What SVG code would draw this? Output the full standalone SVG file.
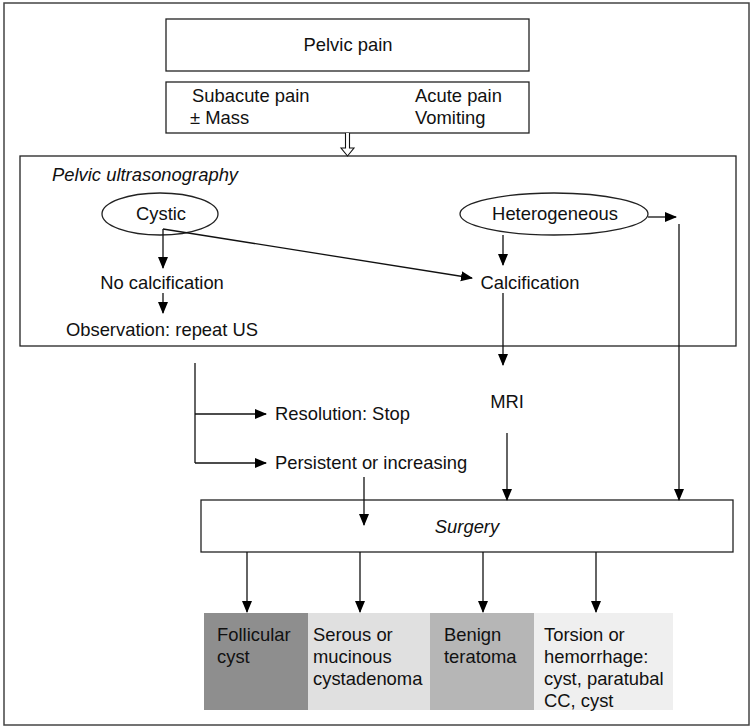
<svg xmlns="http://www.w3.org/2000/svg" width="752" height="727" viewBox="0 0 752 727">
<defs>
<marker id="ah" markerWidth="12" markerHeight="12" refX="11" refY="5" orient="auto" markerUnits="userSpaceOnUse" viewBox="0 0 12 10">
<path d="M0,0 L12,5 L0,10 Z" fill="#000"/>
</marker>
</defs>
<style>
text{font-family:"Liberation Sans",Arial,Helvetica,sans-serif;font-size:18.4px;fill:#111}
.it{font-style:italic}
.box{fill:#fff;stroke:#222;stroke-width:1.3}
.ln{fill:none;stroke:#111;stroke-width:1.3}
.ar{fill:none;stroke:#111;stroke-width:1.3;marker-end:url(#ah)}
</style>
<rect x="4" y="3" width="745" height="722" fill="#fff" stroke="#444" stroke-width="1.5"/>

<g id="pelvic-pain">
<rect class="box" x="166" y="19" width="363" height="52"/>
<text x="348" y="51" text-anchor="middle">Pelvic pain</text>
</g>
<g id="symptoms">
<rect class="box" x="166" y="82" width="363" height="51"/>
<text x="192" y="102">Subacute pain</text>
<text x="190" y="124">± Mass</text>
<text x="415" y="102">Acute pain</text>
<text x="415" y="124">Vomiting</text>
</g>
<g id="ultrasound">
<rect class="box" x="20" y="156" width="716" height="190"/>
<text class="it" x="52" y="181">Pelvic ultrasonography</text>
</g>
<g id="cystic">
<ellipse cx="160" cy="214" rx="58" ry="21" fill="#fff" stroke="#222" stroke-width="1.3"/>
<text x="161" y="220" text-anchor="middle">Cystic</text>
</g>
<g id="heterogeneous">
<ellipse cx="554" cy="214" rx="94" ry="21" fill="#fff" stroke="#222" stroke-width="1.3"/>
<text x="555" y="220" text-anchor="middle">Heterogeneous</text>
</g>
<g id="no-calcification"><text x="162" y="289" text-anchor="middle">No calcification</text></g>
<g id="observation"><text x="162" y="336" text-anchor="middle">Observation: repeat US</text></g>
<g id="calcification"><text x="530" y="289" text-anchor="middle">Calcification</text></g>
<g id="mri"><text x="507" y="408" text-anchor="middle">MRI</text></g>
<g id="resolution"><text x="275" y="420">Resolution: Stop</text></g>
<g id="persistent"><text x="275" y="469">Persistent or increasing</text></g>
<g id="surgery">
<rect class="box" x="201" y="500" width="532" height="52"/>
<text class="it" x="467" y="533" text-anchor="middle">Surgery</text>
</g>
<g id="follicular">
<rect x="204" y="613" width="104" height="97" fill="#8e8e8e"/>
<text x="217" y="641">Follicular</text>
<text x="217" y="663">cyst</text>
</g>
<g id="serous">
<rect x="308" y="613" width="122" height="97" fill="#e0e0e0"/>
<text x="313" y="641">Serous or</text>
<text x="313" y="663">mucinous</text>
<text x="313" y="685">cystadenoma</text>
</g>
<g id="teratoma">
<rect x="430" y="613" width="104" height="97" fill="#b6b6b6"/>
<text x="444" y="641">Benign</text>
<text x="444" y="663">teratoma</text>
</g>
<g id="torsion">
<rect x="534" y="613" width="139" height="97" fill="#efefef"/>
<text x="544" y="641">Torsion or</text>
<text x="544" y="663">hemorrhage:</text>
<text x="544" y="685">cyst, paratubal</text>
<text x="544" y="707">CC, cyst</text>
</g>

<g id="connectors">
<path d="M345.5,133 V148 H341 L347.5,156 L354,148 H349.5 V133" fill="#fff" stroke="#111" stroke-width="1.1"/>
<path class="ar" d="M163,229 V268"/>
<path class="ar" d="M163,229 L472,278"/>
<path class="ar" d="M163,293 V313"/>
<path class="ar" d="M503,235 V265"/>
<path class="ar" d="M648,217 H676"/>
<path class="ar" d="M503,293 V365"/>
<path class="ar" d="M679,224 V500"/>
<path class="ln" d="M195,363 V463"/>
<path class="ar" d="M195,414 H266"/>
<path class="ar" d="M195,463 H266"/>
<path class="ar" d="M364,477 V525"/>
<path class="ar" d="M507,433 V500"/>
<path class="ar" d="M247,552 V612"/>
<path class="ar" d="M360,552 V612"/>
<path class="ar" d="M483,552 V612"/>
<path class="ar" d="M596,552 V612"/>
</g>
</svg>
